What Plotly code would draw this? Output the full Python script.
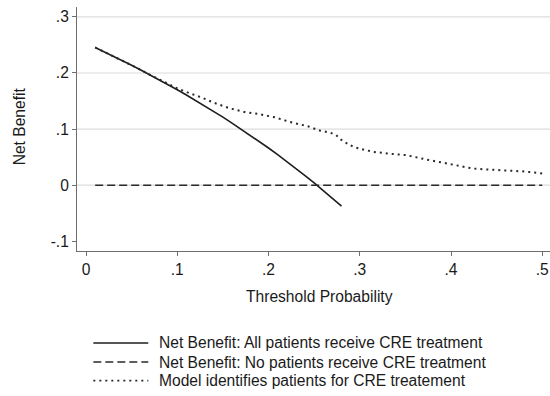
import plotly.graph_objects as go

# ---- data ----
pt_all = [0.01, 0.02, 0.03, 0.04, 0.05, 0.06, 0.07, 0.08, 0.09, 0.10, 0.11, 0.12, 0.13, 0.14,
          0.15, 0.16, 0.17, 0.18, 0.19, 0.20, 0.21, 0.22, 0.23, 0.24, 0.25, 0.26, 0.27, 0.28]
nb_all = [0.2455, 0.2378, 0.2299, 0.2219, 0.2137, 0.2053, 0.1968, 0.1880, 0.1791, 0.1700,
          0.1607, 0.1511, 0.1414, 0.1314, 0.1212, 0.1107, 0.1000, 0.0890, 0.0778, 0.0663,
          0.0544, 0.0423, 0.0299, 0.0171, 0.0040, -0.0095, -0.0233, -0.0375]

pt_none = [0.01, 0.50]
nb_none = [0.0, 0.0]

pt_model = [0.01, 0.03, 0.05, 0.07, 0.08, 0.09, 0.10, 0.115, 0.125, 0.14, 0.158, 0.175,
            0.19, 0.207, 0.223, 0.243, 0.256, 0.267, 0.274, 0.281, 0.293, 0.305, 0.315,
            0.33, 0.351, 0.373, 0.395, 0.41, 0.424, 0.44, 0.461, 0.48, 0.50]
nb_model = [0.2455, 0.2299, 0.2137, 0.1968, 0.1882, 0.1800, 0.1725, 0.1630, 0.1574, 0.1470,
            0.1367, 0.1300, 0.1266, 0.1210, 0.1129, 0.1050, 0.0975, 0.0940, 0.0895, 0.0790,
            0.0683, 0.0630, 0.0594, 0.0565, 0.0535, 0.0458, 0.0387, 0.0340, 0.0297, 0.0280,
            0.0267, 0.0245, 0.0210]

x_tickvals = [0, 0.1, 0.2, 0.3, 0.4, 0.5]
x_ticktext = ["0", ".1", ".2", ".3", ".4", ".5"]
y_tickvals = [-0.1, 0, 0.1, 0.2, 0.3]
y_ticktext = ["-.1", "0", ".1", ".2", ".3"]
y_gridvals = [0, 0.1, 0.2, 0.3]          # ticks that carry a gridline

legend_labels = ["Net Benefit: All patients receive CRE treatment",
                 "Net Benefit: No patients receive CRE treatment",
                 "Model identifies patients for CRE treatement"]

FONT = "Liberation Sans, Arial, sans-serif"
FS = 15.6
styles = [dict(color="#1e1e1e", width=1.6, dash="solid"),
          dict(color="#2a2a2a", width=1.6, dash="8px,4px"),
          dict(color="#2a2a2a", width=2.0, dash="2px,4px")]

fig = go.Figure()
fig.add_trace(go.Scatter(x=pt_all, y=nb_all, mode="lines", line=styles[0], showlegend=False))
fig.add_trace(go.Scatter(x=pt_none, y=nb_none, mode="lines", line=styles[1], showlegend=False))
fig.add_trace(go.Scatter(x=pt_model, y=nb_model, mode="lines", line=styles[2], showlegend=False))

xr = [-0.0099, 0.5085]
yr = [-0.1173, 0.3176]

tickfont = dict(family=FONT, size=FS, color="#1a1a1a")
fig.update_layout(
    width=550, height=396,
    margin=dict(l=77, r=0, t=7, b=145),
    paper_bgcolor="white", plot_bgcolor="white",
    font=dict(family=FONT, size=FS, color="#1a1a1a"),
    xaxis=dict(range=xr, tickvals=x_tickvals, ticktext=x_ticktext, showgrid=False,
               zeroline=False, showline=True, linecolor="#6e6e6e", linewidth=1,
               ticks="outside", ticklen=4, tickcolor="#6e6e6e", tickfont=tickfont),
    yaxis=dict(range=yr, tickvals=y_tickvals, ticktext=y_ticktext, showgrid=False,
               zeroline=False, showline=True, linecolor="#6e6e6e", linewidth=1,
               ticks="outside", ticklen=4, tickcolor="#6e6e6e", tickfont=tickfont),
)

# horizontal gridlines at the labelled ticks (except the lowest), placed on the y scale
for gv in y_gridvals:
    fig.add_shape(type="line", xref="paper", yref="y", x0=0, x1=1, y0=gv, y1=gv,
                  layer="below", line=dict(color="#dcdcdc", width=1.2))

# axis titles
fig.add_annotation(text="Threshold Probability", xref="paper", yref="paper",
                   x=0.5137, y=-0.188, xanchor="center", yanchor="middle",
                   showarrow=False, font=dict(family=FONT, size=FS, color="#1a1a1a"))
fig.add_annotation(text="Net Benefit", xref="paper", yref="paper",
                   x=-0.121, y=0.51, xanchor="center", yanchor="middle", textangle=-90,
                   showarrow=False, font=dict(family=FONT, size=FS, color="#1a1a1a"))

# legend (manual, below plot)
rows_y = [-0.377, -0.455, -0.531]
for lab, st, yy in zip(legend_labels, styles, rows_y):
    lw = 1.4 if st["dash"] == "solid" else st["width"] - 0.3
    fig.add_shape(type="line", xref="paper", yref="paper", x0=0.0345, x1=0.1507,
                  y0=yy, y1=yy, line=dict(color=st["color"], width=lw, dash=st["dash"]))
    fig.add_annotation(text=lab, xref="paper", yref="paper", x=0.1691, y=yy,
                       xanchor="left", yanchor="middle", showarrow=False,
                       font=dict(family=FONT, size=FS, color="#1a1a1a"))

fig.write_html("out.html")
